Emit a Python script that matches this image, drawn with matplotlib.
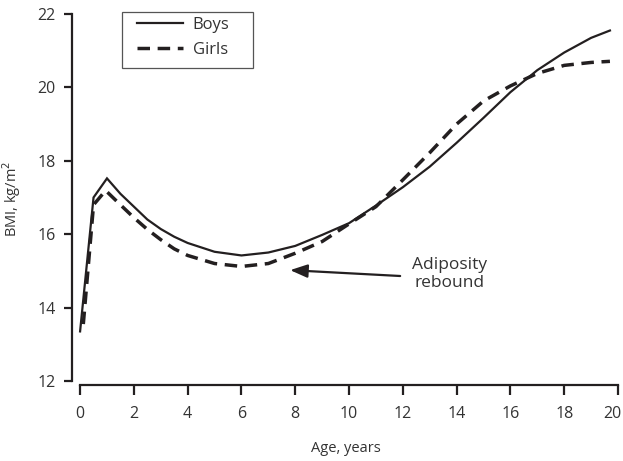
import matplotlib
matplotlib.use("Agg")
import matplotlib.pyplot as plt
from matplotlib.patches import Rectangle
from matplotlib.transforms import ScaledTranslation

plt.rcParams['font.family'] = ['Open Sans', 'DejaVu Sans']
plt.rcParams['lines.scale_dashes'] = False

# BMI-for-age medians
boys_age = [0, 0.5, 1, 1.5, 2, 2.5, 3, 3.5, 4, 5, 6, 7, 8, 9, 10, 11, 12, 13, 14, 15, 16, 17, 18, 19, 19.7]
boys_bmi = [13.35, 17.0, 17.52, 17.1, 16.75, 16.4, 16.14, 15.93, 15.76, 15.52, 15.42, 15.5, 15.68,
            15.98, 16.3, 16.78, 17.28, 17.84, 18.49, 19.17, 19.87, 20.47, 20.95, 21.35, 21.55]

girls_age = [0.12, 0.5, 0.95, 1.5, 2, 2.5, 3, 3.5, 4, 5, 6, 7, 8, 9, 10, 11, 12, 13, 14, 15, 16, 17, 18, 19, 19.7]
girls_bmi = [13.55, 16.8, 17.19, 16.8, 16.45, 16.13, 15.85, 15.6, 15.42, 15.2, 15.12, 15.2, 15.48,
             15.8, 16.28, 16.75, 17.48, 18.22, 19.0, 19.63, 20.04, 20.38, 20.6, 20.68, 20.71]

x_ticks = list(range(0, 21, 2))
y_ticks = list(range(12, 23, 2))

INK = '#231f20'
TXT = '#333333'

fig = plt.figure(figsize=(6.23, 4.61), dpi=100)
ax = fig.add_axes([0.1156, 0.1649, 0.8807, 0.8087])

ax.plot(boys_age, boys_bmi, color=INK, lw=1.6, label='Boys', solid_joinstyle='miter')
ax.plot(girls_age, girls_bmi, color=INK, lw=2.5, linestyle=(0, (9, 5.5)), label='Girls',
        dash_capstyle='butt')

ax.set_xlim(-0.3, 20.1)
ax.set_ylim(11.89, 22.05)
ax.spines['top'].set_visible(False)
ax.spines['right'].set_visible(False)
ax.spines['left'].set_bounds(12, 22)
ax.spines['bottom'].set_bounds(0, 20)
for s in ('left', 'bottom'):
    ax.spines[s].set_linewidth(1.6)
    ax.spines[s].set_color(INK)

ax.set_xticks(x_ticks)
ax.set_yticks(y_ticks)
ax.tick_params(axis='x', direction='out', length=7, width=1.6, color=INK,
               labelsize=11.5, labelcolor=TXT, pad=8)
ax.tick_params(axis='y', direction='out', length=6, width=1.6, color=INK,
               labelsize=11.5, labelcolor=TXT, pad=6)

# keep the last age label inside the canvas
last = ax.get_xticklabels()[-1]
last.set_transform(last.get_transform() + ScaledTranslation(-6 / 100, 0, fig.dpi_scale_trans))

ax.set_xlabel('Age, years', fontsize=10.5, color=TXT, labelpad=14)
ax.set_ylabel('BMI, kg/m$^2$', fontsize=10.5, color=TXT, labelpad=10)

ax.annotate('', xy=(7.81, 15.02), xytext=(11.9, 14.86),
            arrowprops=dict(arrowstyle='-|>,head_length=0.65,head_width=0.25',
                            color=INK, lw=1.6, mutation_scale=16,
                            shrinkA=0, shrinkB=0))
ax.text(13.72, 14.92, 'Adiposity\nrebound', ha='center', va='center',
        fontsize=12.5, color=TXT, linespacing=1.15)

leg = ax.legend(loc='upper left', bbox_to_anchor=(137 / 623, 1 - 17 / 461),
                bbox_transform=fig.transFigure, frameon=False, borderpad=0,
                borderaxespad=0, handlelength=2.75, handletextpad=0.6,
                labelspacing=0.55, fontsize=12)
for t in leg.get_texts():
    t.set_color(TXT)

fig.patches.append(Rectangle((122 / 623, 1 - 68 / 461), 131 / 623, 56 / 461,
                             transform=fig.transFigure, fill=False,
                             edgecolor='#555555', lw=0.9))

fig.savefig('out.png', dpi=100)
